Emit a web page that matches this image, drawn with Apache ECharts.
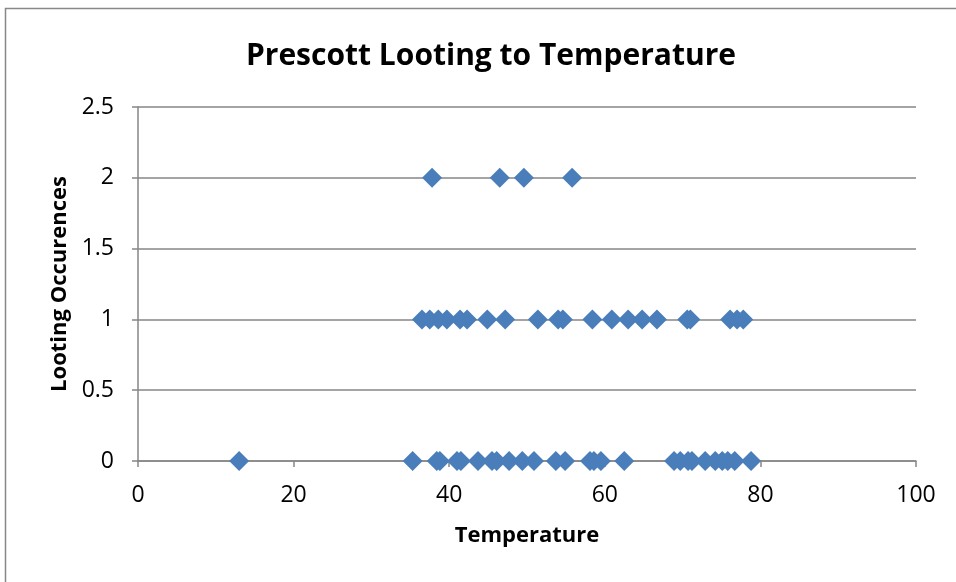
<!DOCTYPE html>
<html><head><meta charset="utf-8">
<script src="https://cdn.jsdelivr.net/npm/echarts@6/dist/echarts.min.js"></script>
<style>html,body{margin:0;padding:0;background:#fff}#c{width:956px;height:582px}</style>
</head><body><div id="c"></div>
<script>
const temps0 = [13.0,35.3,38.4,38.8,41.0,41.5,43.7,45.5,46.1,47.7,49.4,50.9,53.7,54.9,58.1,58.6,59.5,62.5,68.9,69.7,70.7,71.2,72.9,74.2,75.1,75.8,76.7,78.8];
const temps1 = [36.5,37.5,38.6,39.7,41.4,42.3,44.9,47.2,51.4,54.0,54.6,58.4,60.9,63.0,64.8,66.7,70.6,71.0,76.1,77.0,77.8];
const temps2 = [37.8,46.5,49.6,55.8];
const xTicks = [0,20,40,60,80,100];
const yTicks = [0,0.5,1,1.5,2,2.5];

const data = [];
temps0.forEach(t => data.push([t, 0]));
temps1.forEach(t => data.push([t, 1]));
temps2.forEach(t => data.push([t, 2]));

const chart = echarts.init(document.getElementById('c'));
const font = "'Open Sans', 'Noto Sans', sans-serif";
chart.setOption({
  animation: false,
  graphic: [{type:'rect', shape:{x:5.5,y:8.5,width:960,height:590}, style:{fill:'none', stroke:'#888', lineWidth:1.5}, z:-10}],
  title: {text: 'Prescott Looting to Temperature', left: 486, top: 36, textAlign: 'center',
    textStyle: {fontFamily: font, fontWeight: 'bold', fontSize: 30, color: '#000'}},
  grid: {left: 138, right: 40, top: 107, bottom: 121},
  xAxis: {type: 'value', min: 0, max: 100, interval: 20,
    name: 'Temperature', nameLocation: 'middle', nameGap: 64,
    nameTextStyle: {fontFamily: font, fontWeight: 'bold', fontSize: 22, color: '#000'},
    axisLine: {lineStyle: {color: '#868686', width: 1.5}},
    axisTick: {show: true, length: 6, lineStyle: {color: '#868686', width: 1.5}},
    axisLabel: {fontFamily: font, fontSize: 23, color: '#000', margin: 23,
      formatter: v => xTicks.includes(v) ? String(v) : ''},
    splitLine: {show: false}},
  yAxis: {type: 'value', min: 0, max: 2.5, interval: 0.5,
    name: 'Looting Occurences', nameLocation: 'middle', nameGap: 66, nameRotate: 90,
    nameTextStyle: {fontFamily: font, fontWeight: 'bold', fontSize: 22, color: '#000'},
    axisLine: {show: true, lineStyle: {color: '#868686', width: 1.5}},
    axisTick: {show: true, length: 6, lineStyle: {color: '#868686', width: 1.5}},
    axisLabel: {fontFamily: font, fontSize: 23, color: '#000', margin: 24,
      formatter: v => yTicks.includes(v) ? String(v) : ''},
    splitLine: {show: true, lineStyle: {color: '#868686', width: 1.5}}},
  series: [{type: 'scatter', data: data, symbol: 'diamond', symbolSize: 20,
    itemStyle: {color: '#4a7ebb', opacity: 1}}]
});
</script></body></html>
